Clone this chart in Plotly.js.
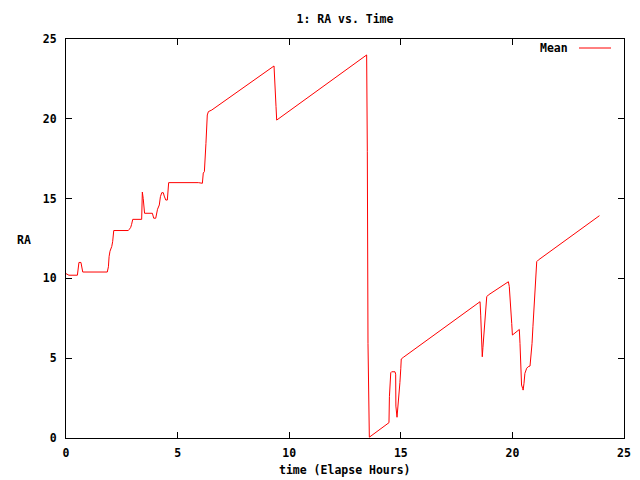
<!DOCTYPE html>
<html>
<head>
<meta charset="utf-8">
<script src="https://cdn.plot.ly/plotly-3.0.1.min.js"></script>
<style>html,body{margin:0;padding:0;background:#fff;}#chart{width:640px;height:480px;}</style>
</head>
<body>
<div id="chart"></div>
<script>
// Elapsed time (hours)
const timeHours = [
  0, 0.13, 0.51, 0.58, 0.67, 0.75, 1.85, 1.90, 1.93, 1.97, 2.05, 2.09, 2.14,
  2.79, 2.84, 2.90, 2.94, 2.99, 3.39, 3.42, 3.46, 3.49, 3.52, 3.87, 3.93, 4.02,
  4.06, 4.10, 4.18, 4.23, 4.29, 4.36, 4.40, 4.47, 4.54, 4.57, 4.60, 5.93, 6.11,
  6.15, 6.20, 6.27, 6.30, 6.33, 6.38, 6.53, 9.32, 9.36, 9.41, 9.44, 13.47, 13.50,
  13.53, 13.59, 14.47, 14.49, 14.52, 14.55, 14.59, 14.74, 14.77, 14.78, 14.83,
  14.86, 14.89, 14.93, 14.96, 15.00, 15.02, 15.11, 16.79, 18.55, 18.58, 18.62,
  18.65, 18.68, 18.73, 18.77, 18.82, 18.85, 18.92, 19.82, 19.86, 19.89, 19.94,
  19.97, 20.00, 20.12, 20.26, 20.31, 20.34, 20.37, 20.41, 20.46, 20.48, 20.52,
  20.56, 20.64, 20.71, 20.79, 20.83, 20.88, 20.92, 20.98, 21.04, 21.09, 21.16,
  23.90
];
// Mean RA
const raMean = [
  10.3, 10.2, 10.2, 11.0, 11.0, 10.4, 10.4, 10.73, 11.36, 11.7, 12.0, 12.3, 13.0,
  13.0, 13.08, 13.2, 13.39, 13.7, 13.7, 15.41, 15.0, 14.4, 14.08, 14.08, 13.77, 13.77,
  14.08, 14.33, 14.6, 15.12, 15.37, 15.37, 15.16, 14.91, 14.91, 15.5, 16.0, 16.0, 15.96,
  16.6, 16.69, 18.46, 19.3, 20.24, 20.45, 20.55, 23.31, 22.47, 20.76, 19.92, 24.0, 17.94,
  5.93, 0.05, 0.96, 2.59, 3.18, 4.09, 4.15, 4.15, 4.0, 2.0, 1.3,
  1.75, 1.96, 2.69, 3.47, 4.37, 4.95, 5.05, 6.77, 8.54, 7.7, 5.93,
  5.09, 5.68, 6.66, 7.5, 8.23, 8.85, 8.96, 9.79, 9.5, 8.65, 7.81,
  7.18, 6.45, 6.6, 6.77, 6.8, 5.93, 4.26, 3.32, 3.11, 3.0, 3.43,
  4.05, 4.37, 4.47, 4.51, 4.99, 5.93, 6.97, 8.44, 10.1, 11.05, 11.15,
  13.93
];
const tickVals = [0, 5, 10, 15, 20, 25];
const tickText = ['0', '5', '10', '15', '20', '25'];

const FONT = {family: '"DejaVu Sans Mono", "Liberation Mono", monospace', size: 11.5, color: '#000', weight: 'bold'};

const trace = {
  x: timeHours, y: raMean, type: 'scatter', mode: 'lines', name: 'Mean',
  line: {color: '#ff0000', width: 1}, showlegend: false
};

const axisCommon = {
  range: [0, 25], tickvals: tickVals, ticktext: tickText,
  showline: true, mirror: 'ticks', linecolor: '#000', linewidth: 1,
  ticks: 'inside', ticklen: 6, tickcolor: '#000', tickwidth: 1,
  showgrid: false, zeroline: false, tickfont: FONT, fixedrange: true
};

const layout = {
  width: 640, height: 480,
  margin: {l: 66, r: 16, t: 39, b: 42, pad: 0},
  paper_bgcolor: '#fff', plot_bgcolor: '#fff',
  font: FONT,
  title: {text: '1: RA vs. Time', font: FONT, x: 0.5, xref: 'paper', y: 1 - 19/480, yref: 'container', yanchor: 'middle'},
  xaxis: Object.assign({}, axisCommon, {ticklabelstandoff: 4}),
  yaxis: Object.assign({}, axisCommon, {ticklabelstandoff: 6}),
  showlegend: false,
  annotations: [
    {text: 'time (Elapse Hours)', xref: 'paper', yref: 'paper', x: 0.5, y: -(470-438)/399, xanchor: 'center', yanchor: 'middle', showarrow: false, font: FONT},
    {text: 'RA', xref: 'paper', yref: 'paper', x: (24-66)/558, y: (438-240)/399, xanchor: 'center', yanchor: 'middle', showarrow: false, font: FONT},
    {text: 'Mean', xref: 'paper', yref: 'paper', x: (570-66)/558, y: (438-48)/399, xanchor: 'right', yanchor: 'middle', showarrow: false, font: FONT}
  ],
  shapes: [
    {type: 'line', xref: 'paper', yref: 'paper', x0: (579-66)/558, x1: (611-66)/558, y0: (438-48)/399, y1: (438-48)/399, line: {color: '#ff0000', width: 1}}
  ]
};

Plotly.newPlot('chart', [trace], layout, {displayModeBar: false, staticPlot: true});
</script>
</body>
</html>
